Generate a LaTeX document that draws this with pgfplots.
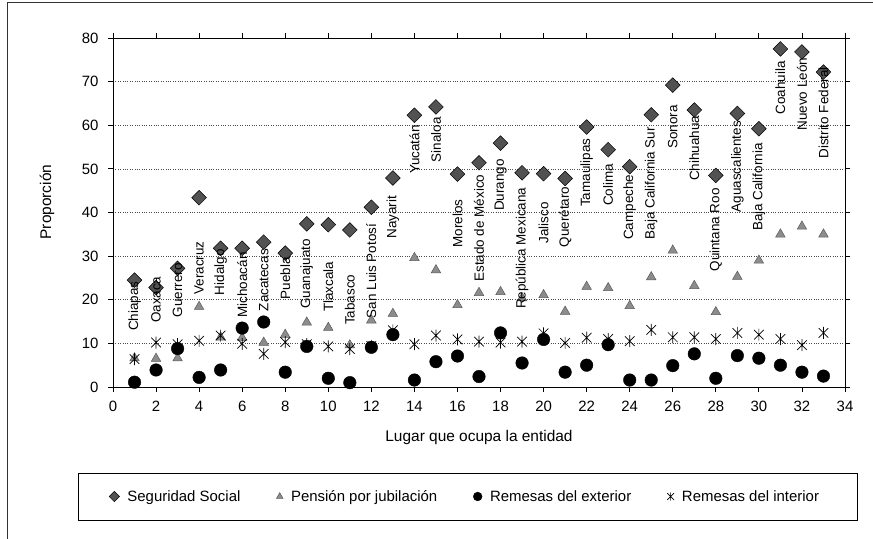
\documentclass[border=0pt]{standalone}
\usepackage{fontspec}
\setmainfont{Liberation Sans}
\usepackage{pgfplots}
\usepackage{pgfplotstable}
\pgfplotsset{compat=1.18}

\pgfdeclareplotmark{xstar}{%
  \pgfpathmoveto{\pgfpoint{0pt}{\pgfplotmarksize}}%
  \pgfpathlineto{\pgfpoint{0pt}{-\pgfplotmarksize}}%
  \pgfpathmoveto{\pgfpoint{-0.8\pgfplotmarksize}{0.8\pgfplotmarksize}}%
  \pgfpathlineto{\pgfpoint{0.8\pgfplotmarksize}{-0.8\pgfplotmarksize}}%
  \pgfpathmoveto{\pgfpoint{-0.8\pgfplotmarksize}{-0.8\pgfplotmarksize}}%
  \pgfpathlineto{\pgfpoint{0.8\pgfplotmarksize}{0.8\pgfplotmarksize}}%
  \pgfusepathqstroke}

\pgfplotstableread{
x y
1 24.5
2 22.8
3 27.2
4 43.4
5 31.8
6 31.8
7 33.2
8 30.7
9 37.4
10 37.2
11 36.0
12 41.2
13 47.9
14 62.3
15 64.2
16 48.8
17 51.4
18 55.9
19 49.1
20 48.9
21 47.8
22 59.6
23 54.4
24 50.5
25 62.4
26 69.2
27 63.5
28 48.5
29 62.7
30 59.2
31 77.5
32 76.8
33 72.2
}\seguridad

\pgfplotstableread{
x y
1 6.6
2 6.5
3 6.6
4 18.4
5 11.4
6 11.3
7 10.2
8 12.0
9 14.8
10 13.6
11 9.6
12 15.3
13 16.8
14 29.6
15 26.8
16 18.8
17 21.6
18 21.8
19 20.4
20 21.1
21 17.3
22 23.0
23 22.7
24 18.6
25 25.2
26 31.3
27 23.2
28 17.2
29 25.3
30 29.0
31 35.0
32 36.8
33 35.0
}\pension

\pgfplotstableread{
x y
1 1.1
2 3.9
3 8.8
4 2.2
5 3.9
6 13.5
7 14.9
8 3.4
9 9.3
10 2.0
11 1.0
12 9.1
13 12.0
14 1.6
15 5.8
16 7.1
17 2.4
18 12.4
19 5.5
20 10.9
21 3.4
22 5.0
23 9.7
24 1.6
25 1.6
26 4.9
27 7.6
28 2.0
29 7.2
30 6.6
31 5.0
32 3.4
33 2.5
}\exterior

\pgfplotstableread{
x y
1 6.4
2 10.2
3 9.8
4 10.6
5 11.8
6 9.9
7 7.6
8 10.3
9 9.8
10 9.3
11 8.7
12 9.4
13 13.0
14 9.8
15 11.8
16 10.9
17 10.4
18 10.2
19 10.4
20 12.3
21 10.1
22 11.3
23 11.0
24 10.5
25 13.1
26 11.4
27 11.4
28 11.0
29 12.4
30 12.0
31 11.0
32 9.6
33 12.4
}\interior

\pgfplotstableread{
x y label
1 18.5 Chiapas
2 20.0 Oaxaca
3 22.2 Guerrero
4 27.3 Veracruz
5 26.3 Hidalgo
6 23.4 Michoacán
7 24.5 Zacatecas
8 24.9 Puebla
9 25.9 Guanajuato
10 23.0 Tlaxcala
11 20.0 Tabasco
12 26.6 {San Luis Potosí}
13 38.9 Nayarit
14 54.4 Yucatán
15 56.7 Sinaloa
16 37.5 Morelos
17 36.4 {Estado de México}
18 46.3 Durango
19 31.8 {República Mexicana}
20 37.6 Jalisco
21 39.0 Querétaro
22 49.1 Tamaulipas
23 46.3 Colima
24 41.2 Campeche
25 46.7 {Baja California Sur}
26 59.6 Sonora
27 54.7 Chihuahua
28 36.0 {Quintana Roo}
29 50.5 Aguascalientes
30 45.8 {Baja California}
31 68.6 Coahuila
32 67.1 {Nuevo León}
33 62.8 {Distrito Federal}
}\etiquetas

\begin{document}
\begin{tikzpicture}
\path[use as bounding box] (-113bp,-152bp) rectangle (760bp,387bp);
\draw[black!80, line width=0.6bp] (-106bp,-152bp) -- (-106bp,385bp) -- (760bp,385bp);
\begin{axis}[
  scale only axis,
  width=732bp, height=349bp,
  xmin=0, xmax=34, ymin=0, ymax=80,
  xtick={0,2,...,34}, ytick={0,10,...,80},
  tick align=outside, major tick length=5bp,
  axis line style={line width=0.8bp},
  every tick/.style={black, line width=0.8bp},
  ymajorgrids,
  major grid style={black!70, dotted, line width=0.6bp},
  /pgf/number format/assume math mode=true,
  tick label style={font=\fontsize{15}{17}\selectfont},
  yticklabel style={xshift=-6bp},
  xticklabel style={yshift=-6bp},
  xlabel={Lugar que ocupa la entidad},
  ylabel={Proporción},
  label style={font=\fontsize{15.5}{18}\selectfont},
  xlabel style={at={(axis description cs:0.5,-0.1461)}, anchor=center},
  ylabel style={at={(axis description cs:-0.0902,0.53)}, anchor=center},
  legend columns=4,
  legend image post style={every mark/.append style={scale=0.7}},
  legend style={at={(axis description cs:0.481,-0.3138)}, anchor=center,
    draw=none, fill=none, font=\fontsize{15}{17}\selectfont,
    /tikz/every odd column/.append style={column sep=6bp},
    /tikz/every even column/.append style={column sep=34bp}},
]
\addplot[only marks, mark=square*, mark size=5.2bp,
  mark options={rotate=45, fill=black!68, draw=black, line width=0.5bp}]
  table[x=x,y=y] {\seguridad};
\addlegendentry{Seguridad Social}
\addplot[only marks, mark=triangle*, mark size=5.5bp,
  mark options={fill=black!45, draw=black!65, line width=0.5bp}]
  table[x=x,y=y] {\pension};
\addlegendentry{Pensión por jubilación}
\addplot[only marks, mark=*, mark size=6.3bp,
  mark options={fill=black, draw=black}]
  table[x=x,y=y] {\exterior};
\addlegendentry{Remesas del exterior}
\addplot[only marks, mark=xstar, mark size=6bp,
  mark options={draw=black, line width=0.7bp}]
  table[x=x,y=y] {\interior};
\addlegendentry{Remesas del interior}
\addplot[draw=none, mark=none, forget plot,
  point meta=explicit symbolic,
  nodes near coords,
  every node near coord/.style={rotate=90, anchor=center, inner sep=0pt,
    font=\fontsize{13.5}{15}\selectfont, black}]
  table[x=x,y=y,meta=label] {\etiquetas};
\end{axis}
\draw[black, line width=0.8bp] (-35bp,-86bp) rectangle (744bp,-133bp);
\end{tikzpicture}
\end{document}
